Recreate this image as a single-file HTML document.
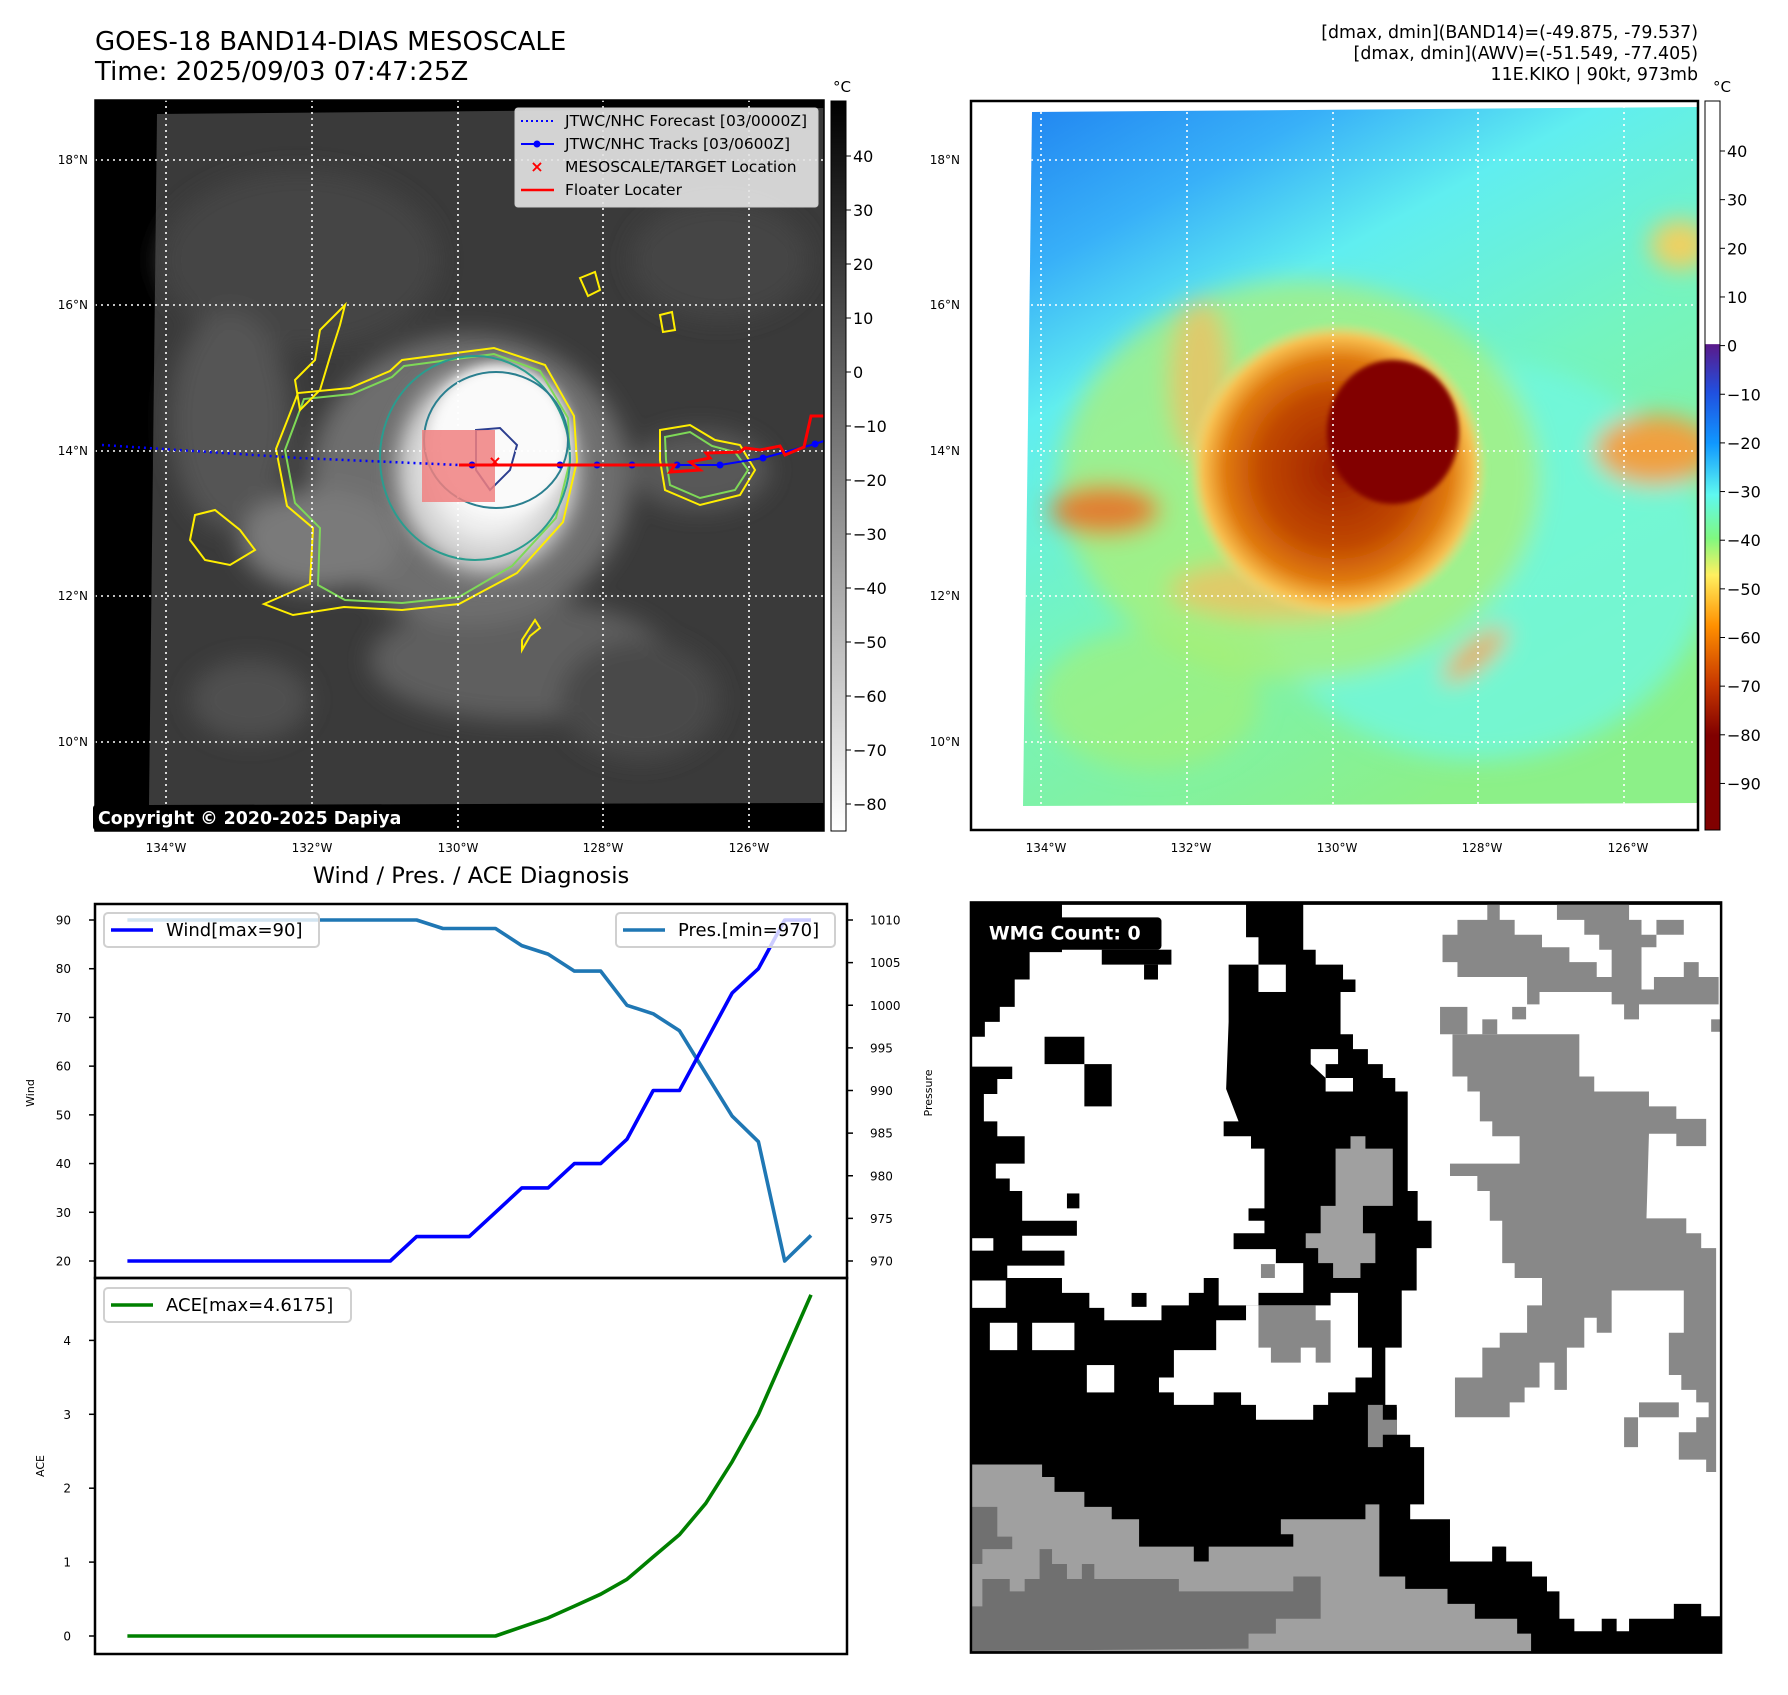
<!DOCTYPE html>
<html><head><meta charset="utf-8">
<style>
html,body{margin:0;padding:0;background:#fff;}
svg text{font-family:"DejaVu Sans","Liberation Sans",sans-serif;}
</style></head>
<body>
<svg id="root" width="1788" height="1690" viewBox="0 0 1788 1690" xmlns="http://www.w3.org/2000/svg">
<defs>
  <filter id="blur6" x="-20%" y="-20%" width="140%" height="140%"><feGaussianBlur stdDeviation="6"/></filter>
  <filter id="blur12" x="-30%" y="-30%" width="160%" height="160%"><feGaussianBlur stdDeviation="12"/></filter>
  <filter id="blur3"><feGaussianBlur stdDeviation="2.5"/></filter>
  <radialGradient id="stormGray" cx="0.5" cy="0.5" r="0.5">
    <stop offset="0" stop-color="#ffffff"/><stop offset="0.45" stop-color="#f0f0f0"/>
    <stop offset="0.75" stop-color="#c8c8c8"/><stop offset="1" stop-color="#707070" stop-opacity="0"/>
  </radialGradient>
  <linearGradient id="awvBase" x1="0" y1="0" x2="0.55" y2="1">
    <stop offset="0" stop-color="#1e80f0"/><stop offset="0.2" stop-color="#38b0f8"/>
    <stop offset="0.36" stop-color="#60eef0"/><stop offset="0.6" stop-color="#74f4c0"/>
    <stop offset="1" stop-color="#8cf088"/>
  </linearGradient>
  <radialGradient id="stormHot" cx="0.5" cy="0.5" r="0.5">
    <stop offset="0" stop-color="#a02000"/><stop offset="0.5" stop-color="#c04800"/>
    <stop offset="0.75" stop-color="#e07a10"/><stop offset="0.9" stop-color="#f8c050"/>
    <stop offset="1" stop-color="#f8e080" stop-opacity="0"/>
  </radialGradient>
  <linearGradient id="grayBar" x1="0" y1="0" x2="0" y2="1">
    <stop offset="0" stop-color="#000"/><stop offset="1" stop-color="#fff"/>
  </linearGradient>
  <linearGradient id="jetBar" x1="0" y1="0" x2="0" y2="1">
    <stop offset="0" stop-color="#ffffff"/><stop offset="0.333" stop-color="#ffffff"/>
    <stop offset="0.334" stop-color="#5a1a8a"/><stop offset="0.40" stop-color="#2050e0"/>
    <stop offset="0.47" stop-color="#1098ff"/><stop offset="0.54" stop-color="#5ef8f0"/>
    <stop offset="0.60" stop-color="#80f880"/><stop offset="0.65" stop-color="#fff060"/>
    <stop offset="0.72" stop-color="#ff9000"/><stop offset="0.80" stop-color="#c83800"/>
    <stop offset="0.87" stop-color="#800000"/><stop offset="1" stop-color="#800000"/>
  </linearGradient>
  <clipPath id="leftClip"><rect x="95" y="100" width="729" height="731"/></clipPath>
  <clipPath id="rightClip"><polygon points="1032,112 1698,107 1698,803 1023,806"/></clipPath>
</defs>

<!-- ===== Top-left IR map ===== -->
<text x="95" y="50" font-size="26">GOES-18 BAND14-DIAS MESOSCALE</text>
<text x="95" y="80" font-size="26">Time: 2025/09/03 07:47:25Z</text>
<g clip-path="url(#leftClip)">
  <rect x="95" y="100" width="729" height="731" fill="#000"/>
  <polygon points="157,114 824,108 824,803 149,805" fill="#3a3a3a"/>
  <g filter="url(#blur12)" clip-path="url(#leftClip)">
    <ellipse cx="300" cy="260" rx="140" ry="90" fill="#444"/>
    <ellipse cx="230" cy="420" rx="60" ry="110" fill="#555"/>
    <ellipse cx="520" cy="660" rx="150" ry="60" fill="#5e5e5e"/>
    <ellipse cx="640" cy="700" rx="80" ry="60" fill="#484848"/>
    <ellipse cx="720" cy="260" rx="90" ry="60" fill="#444"/>
    <ellipse cx="700" cy="470" rx="70" ry="40" fill="#585858"/>
    <ellipse cx="250" cy="700" rx="60" ry="40" fill="#505050"/>
    <ellipse cx="470" cy="480" rx="160" ry="145" fill="#6e6e6e"/>
    <ellipse cx="320" cy="540" rx="80" ry="50" fill="#7a7a7a"/>
  </g>
  <ellipse cx="488" cy="470" rx="110" ry="125" fill="url(#stormGray)" filter="url(#blur6)"/>
  <ellipse cx="500" cy="440" rx="70" ry="75" fill="#fafafa" filter="url(#blur6)"/>
  <g fill="none" stroke-width="2">
    <polygon stroke="#ffee00" points="402,360 440,355 494,348 545,365 574,416 577,461 563,522 517,573 459,604 402,610 344,607 293,615 264,604 310,584 313,528 287,506 276,449 298,393 350,388 390,371"/>
    <polygon stroke="#7ed957" points="404,366 494,354 540,371 568,418 570,461 556,518 512,566 459,597 402,603 345,600 318,585 320,528 295,503 285,450 304,399 352,394 392,377"/>
    <ellipse cx="475" cy="458" rx="95" ry="102" stroke="#2a9d8f"/>
    <ellipse cx="496" cy="440" rx="72" ry="68" stroke="#2a7f8f"/>
    <path d="M476,430 L500,428 L517,445 L510,470 L490,490 L476,470 Z" stroke="#2c3e8f"/>
    <polygon stroke="#ffee00" points="345,305 320,330 315,360 295,380 300,410 320,390 332,350 340,325"/>
    <polygon stroke="#ffee00" points="195,515 215,510 240,530 255,550 230,565 205,560 190,540"/>
    <polygon stroke="#ffee00" points="660,430 690,425 715,440 740,445 755,470 740,495 700,505 665,490 660,460"/>
    <polygon stroke="#7ed957" points="665,437 690,432 712,446 735,452 748,470 735,490 700,498 670,485 666,460"/>
    <polygon stroke="#ffee00" points="530,636 540,628 535,620 522,640 522,650"/>
    <polygon stroke="#ffee00" points="580,278 595,272 600,290 588,296"/>
    <polygon stroke="#ffee00" points="660,315 672,312 675,330 663,332"/>
  </g>
  <g stroke="#fff" stroke-width="1.6" stroke-dasharray="2,4">
    <line x1="95" x2="824" y1="160" y2="160"/><line x1="95" x2="824" y1="305" y2="305"/>
    <line x1="95" x2="824" y1="451" y2="451"/><line x1="95" x2="824" y1="596" y2="596"/>
    <line x1="95" x2="824" y1="742" y2="742"/>
    <line y1="100" y2="831" x1="166" x2="166"/><line y1="100" y2="831" x1="312" x2="312"/>
    <line y1="100" y2="831" x1="458" x2="458"/><line y1="100" y2="831" x1="603" x2="603"/>
    <line y1="100" y2="831" x1="749" x2="749"/>
  </g>
  <rect x="422" y="430" width="73" height="72" fill="#f08080" opacity="0.85"/>
  <polyline points="102,445 300,458 459,465" fill="none" stroke="#0000ff" stroke-width="2.5" stroke-dasharray="2,4"/>
  <polyline points="472,465 560,465 597,465 632,465 677,465 720,465 763,458 815,444 824,441" fill="none" stroke="#0000ff" stroke-width="2"/>
  <g fill="#0000ff"><circle cx="472" cy="465" r="3.5"/><circle cx="560" cy="465" r="3.5"/><circle cx="597" cy="465" r="3.5"/><circle cx="632" cy="465" r="3.5"/><circle cx="677" cy="465" r="3.5"/><circle cx="720" cy="465" r="3.5"/><circle cx="763" cy="458" r="3.5"/><circle cx="815" cy="444" r="3.5"/></g>
  <polyline points="459,465 675,465 670,472 700,470 690,462 710,458 706,453 740,452 745,448 760,450 780,446 785,455 804,447 811,416 824,416" fill="none" stroke="#ff0000" stroke-width="3"/>
  <text x="495" y="467" font-size="16" fill="#ff0000" font-weight="bold" text-anchor="middle">×</text>
</g>
<rect x="93" y="805" width="310" height="25" rx="3" fill="#000"/>
<text x="98" y="824" font-size="17.4" font-weight="bold" fill="#fff">Copyright © 2020-2025 Dapiya</text>
<rect x="95" y="100" width="729" height="731" fill="none" stroke="#000" stroke-width="1.5"/>
<g>
  <rect x="515" y="108" width="303" height="99" rx="3" fill="#e4e4e4" fill-opacity="0.9" stroke="#ccc"/>
  <line x1="521" x2="554" y1="121" y2="121" stroke="#0000ff" stroke-width="2" stroke-dasharray="2,3"/>
  <text x="565" y="126" font-size="15.5">JTWC/NHC Forecast [03/0000Z]</text>
  <line x1="521" x2="554" y1="144" y2="144" stroke="#0000ff" stroke-width="2"/><circle cx="537" cy="144" r="3.5" fill="#0000ff"/>
  <text x="565" y="149" font-size="15.5">JTWC/NHC Tracks [03/0600Z]</text>
  <text x="537" y="172" font-size="16" font-weight="bold" fill="#ff0000" text-anchor="middle">×</text>
  <text x="565" y="172" font-size="15.5">MESOSCALE/TARGET Location</text>
  <line x1="521" x2="554" y1="190" y2="190" stroke="#ff0000" stroke-width="2.5"/>
  <text x="565" y="195" font-size="15.5">Floater Locater</text>
</g>
<g font-size="12" text-anchor="end">
  <text x="88" y="164">18°N</text><text x="88" y="309">16°N</text><text x="88" y="455">14°N</text><text x="88" y="600">12°N</text><text x="88" y="746">10°N</text>
</g>
<g font-size="12" text-anchor="middle">
  <text x="166" y="852">134°W</text><text x="312" y="852">132°W</text><text x="458" y="852">130°W</text><text x="603" y="852">128°W</text><text x="749" y="852">126°W</text>
</g>
<rect x="831" y="101" width="15" height="730" fill="url(#grayBar)" stroke="#000" stroke-width="1"/>
<text x="842" y="92" font-size="15" text-anchor="middle">°C</text>
<g id="leftCbTicks" font-size="16"></g>

<!-- ===== Top-right AWV map ===== -->
<g font-size="17.4" text-anchor="end">
  <text x="1698" y="38">[dmax, dmin](BAND14)=(-49.875, -79.537)</text>
  <text x="1698" y="59">[dmax, dmin](AWV)=(-51.549, -77.405)</text>
  <text x="1698" y="80">11E.KIKO | 90kt, 973mb</text>
</g>
<rect x="971" y="101" width="727" height="729" fill="#fff"/>
<g clip-path="url(#rightClip)">
  <rect x="1000" y="100" width="720" height="720" fill="url(#awvBase)"/>
  <g filter="url(#blur12)">
    <ellipse cx="1480" cy="560" rx="230" ry="200" fill="#70f8e0" opacity="0.8"/>
    <ellipse cx="1300" cy="480" rx="240" ry="200" fill="#b0f070" opacity="0.7"/>
    <ellipse cx="1150" cy="700" rx="110" ry="70" fill="#a8f070" opacity="0.6"/>
    <ellipse cx="1655" cy="450" rx="60" ry="35" fill="#f0a040"/>
    <ellipse cx="1680" cy="245" rx="30" ry="25" fill="#f0d060"/>
    <ellipse cx="1105" cy="510" rx="55" ry="25" fill="#e08030"/>
    <ellipse cx="1200" cy="380" rx="30" ry="80" fill="#f0c060" opacity="0.8"/>
    <ellipse cx="1475" cy="655" rx="40" ry="12" fill="#f0a040" transform="rotate(-40 1475 655)"/>
    <ellipse cx="1280" cy="590" rx="110" ry="30" fill="#f0c060" opacity="0.8"/>
  </g>
  <ellipse cx="1338" cy="470" rx="150" ry="148" fill="url(#stormHot)" filter="url(#blur3)"/>
  <ellipse cx="1393" cy="432" rx="66" ry="72" fill="#820000" filter="url(#blur3)"/>
  <g stroke="#fff" stroke-width="1.6" stroke-dasharray="2,4">
    <line x1="971" x2="1698" y1="160" y2="160"/><line x1="971" x2="1698" y1="305" y2="305"/>
    <line x1="971" x2="1698" y1="451" y2="451"/><line x1="971" x2="1698" y1="596" y2="596"/>
    <line x1="971" x2="1698" y1="742" y2="742"/>
    <line y1="100" y2="831" x1="1041" x2="1041"/><line y1="100" y2="831" x1="1187" x2="1187"/>
    <line y1="100" y2="831" x1="1333" x2="1333"/><line y1="100" y2="831" x1="1478" x2="1478"/>
    <line y1="100" y2="831" x1="1624" x2="1624"/>
  </g>
</g>
<rect x="971" y="101" width="727" height="729" fill="none" stroke="#000" stroke-width="2.5"/>
<g font-size="12" text-anchor="end">
  <text x="960" y="164">18°N</text><text x="960" y="309">16°N</text><text x="960" y="455">14°N</text><text x="960" y="600">12°N</text><text x="960" y="746">10°N</text>
</g>
<g font-size="12" text-anchor="middle">
  <text x="1046" y="852">134°W</text><text x="1191" y="852">132°W</text><text x="1337" y="852">130°W</text><text x="1482" y="852">128°W</text><text x="1628" y="852">126°W</text>
</g>
<rect x="1705" y="101" width="15" height="729" fill="url(#jetBar)" stroke="#000" stroke-width="1"/>
<text x="1722" y="92" font-size="15" text-anchor="middle">°C</text>
<g id="rightCbTicks" font-size="16"></g>

<!-- ===== Bottom-left diagnosis charts ===== -->
<text x="471" y="883" font-size="22.5" text-anchor="middle">Wind / Pres. / ACE Diagnosis</text>
<g id="chartG"></g>

<!-- ===== Bottom-right WMG ===== -->
<svg x="960" y="890" width="780" height="780" viewBox="0 0 1568 1568">
  <rect x="22" y="25" width="1508" height="1508" fill="#000"/>
  <g fill="#fff">
    <polygon points="205,30 575,30 575,95 600,95 600,150 540,150 540,265 535,400 560,465 530,465 530,495 585,495 585,520 612,520 612,640 580,640 580,665 612,665 612,690 550,690 550,722 635,722 635,750 690,750 690,810 600,810 600,835 520,835 520,780 490,780 490,810 460,810 460,835 405,835 405,865 290,865 290,840 260,840 260,810 205,810 205,780 95,780 95,755 210,755 210,725 125,725 125,695 235,695 235,665 125,665 125,605 100,605 100,580 72,580 72,550 130,550 130,495 75,495 75,465 48,465 48,410 75,410 75,380 105,380 105,355 22,355 22,295 50,295 50,265 80,265 80,235 110,235 110,180 140,180 140,125 205,125"/>
    <polygon points="690,30 1530,30 1530,1460 1490,1460 1490,1435 1435,1435 1435,1465 1345,1465 1345,1490 1320,1490 1320,1465 1290,1465 1290,1490 1235,1490 1235,1465 1205,1465 1205,1410 1180,1410 1180,1380 1150,1380 1150,1350 1095,1350 1095,1320 1070,1320 1070,1350 985,1350 985,1265 905,1265 905,1235 933,1235 933,1120 905,1120 905,1095 878,1095 878,1040 855,1040 855,920 888,920 888,805 918,805 918,720 948,720 948,665 920,665 920,605 900,605 900,405 875,405 875,378 850,378 850,350 820,350 820,320 790,320 790,290 765,290 765,205 795,205 795,180 770,180 770,150 715,150 715,120 690,120"/>
    <polygon points="600,835 745,835 745,810 800,810 800,920 828,920 828,980 795,980 795,1010 740,1010 740,1035 710,1035 710,1065 595,1065 595,1035 565,1035 565,1010 510,1010 510,1035 430,1035 430,1010 400,1010 400,980 430,980 430,925 515,925 515,865 575,865 575,835"/>
    <polygon points="705,320 760,320 760,350 735,350 735,378 790,378 790,405 735,405 735,378 705,350"/>
    <rect x="60" y="870" width="55" height="55"/><rect x="145" y="870" width="85" height="55"/>
    <rect x="22" y="785" width="70" height="55"/><rect x="22" y="700" width="45" height="25"/>
    <rect x="255" y="955" width="55" height="55"/><rect x="600" y="150" width="55" height="55"/>
    <rect x="260" y="725" width="30" height="55"/>
  </g>
  <g fill="#000">
    <rect x="170" y="295" width="80" height="55"/><rect x="250" y="350" width="55" height="85"/>
    <rect x="215" y="610" width="25" height="30"/><rect x="285" y="120" width="140" height="30"/>
    <rect x="370" y="150" width="28" height="30"/><rect x="345" y="810" width="30" height="28"/>
    <rect x="850" y="1035" width="28" height="30"/><rect x="1070" y="1320" width="28" height="30"/>
  </g>
  <g fill="#888">
    <polygon points="990,290 1245,290 1245,375 1275,375 1275,405 1385,405 1385,435 1440,435 1440,460 1500,460 1500,515 1440,515 1440,490 1385,490 1380,660 1460,660 1460,690 1490,690 1490,720 1520,720 1520,1170 1500,1170 1500,1145 1445,1145 1445,1090 1480,1090 1480,1060 1505,1060 1505,1030 1480,1030 1480,1005 1450,1005 1450,975 1425,975 1425,890 1455,890 1455,805 1310,805 1310,890 1280,890 1280,860 1255,860 1255,920 1220,920 1220,1005 1195,1005 1195,950 1165,950 1165,1000 1135,1000 1135,1030 1105,1030 1105,1060 995,1060 995,980 1050,980 1050,920 1085,920 1085,890 1140,890 1140,835 1170,835 1170,780 1115,780 1115,750 1090,750 1090,665 1065,665 1065,605 1040,605 1040,575 985,575 985,550 1125,550 1125,495 1070,495 1070,465 1045,465 1045,405 1020,405 1020,375 990,375"/>
    <polygon points="970,90 1000,90 1000,60 1060,60 1060,30 1085,30 1085,60 1115,60 1115,90 1170,90 1170,115 1225,115 1225,145 1280,145 1280,175 1310,175 1310,120 1285,120 1285,90 1255,90 1255,60 1200,60 1200,30 1345,30 1345,60 1370,60 1370,90 1400,90 1400,60 1455,60 1455,90 1400,90 1400,115 1370,115 1370,200 1395,200 1395,175 1455,175 1455,145 1485,145 1485,175 1525,175 1525,230 1365,230 1365,260 1335,260 1335,230 1310,230 1310,205 1165,205 1165,230 1140,230 1140,175 1000,175 1000,145 970,145"/>
    <rect x="965" y="235" width="55" height="55"/><rect x="1050" y="260" width="30" height="30"/>
    <rect x="1110" y="235" width="28" height="25"/><rect x="1510" y="260" width="20" height="25"/>
    <polygon points="600,835 715,835 715,865 745,865 745,950 715,950 715,920 685,920 685,950 625,950 625,920 600,920"/>
    <polygon points="820,1035 850,1035 850,1065 878,1065 878,1095 850,1095 850,1120 820,1120"/>
    <rect x="605" y="752" width="28" height="28"/><rect x="1335" y="1060" width="28" height="60"/>
    <rect x="1365" y="1030" width="80" height="30"/>
  </g>
  <g fill="#a0a0a0">
    <polygon points="785,495 815,495 815,520 870,520 870,635 810,635 810,690 835,690 835,750 805,750 805,780 750,780 750,750 720,750 720,720 695,720 695,690 725,690 725,635 755,635 755,520 785,520"/>
    <polygon points="22,1155 165,1155 165,1180 190,1180 190,1210 250,1210 250,1240 305,1240 305,1265 360,1265 360,1320 470,1320 470,1350 500,1350 500,1320 670,1320 670,1295 645,1295 645,1265 815,1265 815,1235 843,1235 843,1380 895,1380 895,1405 980,1405 980,1435 1035,1435 1035,1465 1120,1465 1120,1495 1148,1495 1148,1530 22,1530"/>
  </g>
  <g fill="#707070">
    <polygon points="22,1240 75,1240 75,1300 105,1300 105,1325 45,1325 45,1355 22,1355"/>
    <polygon points="45,1385 100,1385 100,1410 130,1410 130,1385 160,1385 160,1325 185,1325 185,1355 215,1355 215,1385 245,1385 245,1355 270,1355 270,1385 440,1385 440,1410 670,1410 670,1380 725,1380 725,1465 635,1465 635,1495 580,1495 580,1525 22,1530 22,1440 45,1440"/>
  </g>
  <rect x="22" y="25" width="1508" height="1508" fill="none" stroke="#000" stroke-width="5"/>
  <rect x="40" y="55" width="365" height="65" rx="8" fill="#000"/>
  <text x="58" y="100" font-size="38" font-weight="bold" fill="#fff">WMG Count: 0</text>
</svg>
</svg>

<script>
// ---- data ----
const timeIdx = [0,1,2,3,4,5,6,7,8,9,10,11,12,13,14,15,16,17,18,19,20,21,22,23,24,25,26];
const windKt = [20,20,20,20,20,20,20,20,20,20,20,25,25,25,30,35,35,40,40,45,55,55,65,75,80,90,90];
const presMb = [1010,1010,1010,1010,1010,1010,1010,1010,1010,1010,1010,1010,1009,1009,1009,1007,1006,1004,1004,1000,999,997,992,987,984,970,973];
const aceVal = [0,0,0,0,0,0,0,0,0,0,0,0,0,0,0,0.1225,0.245,0.405,0.565,0.7675,1.07,1.3725,1.795,2.3575,2.9975,3.8075,4.6175];
const windTicks = [20,30,40,50,60,70,80,90];
const presTicks = [970,975,980,985,990,995,1000,1005,1010];
const aceTicks = [0,1,2,3,4];
const leftCbTickVals = [40,30,20,10,0,-10,-20,-30,-40,-50,-60,-70,-80];
const rightCbTickVals = [40,30,20,10,0,-10,-20,-30,-40,-50,-60,-70,-80,-90];

const NS = 'http://www.w3.org/2000/svg';
function mk(tag, attrs, parent){const e=document.createElementNS(NS,tag);for(const k in attrs)e.setAttribute(k,attrs[k]);parent.appendChild(e);return e;}

const xS = i => 127.4 + i*(811-127.4)/26;
const yW = v => 1261 - (v-20)*(341/70);
const yP = p => 1261 - (p-970)*(341/40);
const yA = a => 1636 - a*73.9;
const yLcb = v => 156 + (40-v)*5.4;
const yRcb = v => 151 + (40-v)*4.865;

const g = document.getElementById('chartG');
let r1 = mk('rect',{x:95,y:904,width:752,height:374,fill:'none',stroke:'#000','stroke-width':2.5},g);


let r2 = mk('rect',{x:95,y:1278,width:752,height:376,fill:'none',stroke:'#000','stroke-width':2.5},g);



windTicks.forEach(v=>{
  const y=yW(v);
  mk('line',{x1:89,x2:95,y1:y,y2:y,stroke:'#000','stroke-width':1.5},g);
  const t=mk('text',{x:71,y:y+4.5,'font-size':12,'text-anchor':'end'},g);t.textContent=v;
  
  
});
presTicks.forEach(v=>{
  const y=yP(v);
  mk('line',{x1:847,x2:853,y1:y,y2:y,stroke:'#000','stroke-width':1.5},g);
  const t=mk('text',{x:870,y:y+4.5,'font-size':12},g);t.textContent=v;
  
  
});
aceTicks.forEach(v=>{
  const y=yA(v);
  mk('line',{x1:89,x2:95,y1:y,y2:y,stroke:'#000','stroke-width':1.5},g);
  const t=mk('text',{x:71,y:y+4.5,'font-size':12,'text-anchor':'end'},g);t.textContent=v;
  
  
});
let yl1=mk('text',{x:0,y:0,'font-size':11,'text-anchor':'middle',transform:'translate(34,1093) rotate(-90)'},g);yl1.textContent='Wind';


let yl2=mk('text',{x:0,y:0,'font-size':11,'text-anchor':'middle',transform:'translate(932,1093) rotate(-90)'},g);yl2.textContent='Pressure';


let yl3=mk('text',{x:0,y:0,'font-size':11,'text-anchor':'middle',transform:'translate(44,1466) rotate(-90)'},g);yl3.textContent='ACE';



function line(arr, ys, color, name){
  const pts = arr.map((v,i)=>xS(timeIdx[i]).toFixed(1)+','+ys(v).toFixed(1)).join(' ');
  const p = mk('polyline',{points:pts,fill:'none',stroke:color,'stroke-width':3.6,'stroke-linejoin':'round'},g);
  
  
}
line(presMb, yP, '#1f77b4', 'pressure-line');
line(windKt, yW, '#0000ff', 'wind-line');
line(aceVal, yA, '#008000', 'ace-line');

function legend(x,y,w,color,label,name){
  const lg = mk('g',{},g);
  
  
  mk('rect',{x:x,y:y,width:w,height:34,rx:4,fill:'#fff','fill-opacity':0.8,stroke:'#d0d0d0','stroke-width':2},lg);
  mk('line',{x1:x+7,x2:x+49,y1:y+17,y2:y+17,stroke:color,'stroke-width':3.6},lg);
  const t=mk('text',{x:x+62,y:y+23,'font-size':18},lg);t.textContent=label;
}
legend(104,913,215,'#0000ff','Wind[max=90]','wind-legend');
legend(616,913,219,'#1f77b4','Pres.[min=970]','pressure-legend');
legend(104,1288,247,'#008000','ACE[max=4.6175]','ace-legend');

const lc = document.getElementById('leftCbTicks');
leftCbTickVals.forEach(v=>{
  const y=yLcb(v);
  mk('line',{x1:846,x2:851,y1:y,y2:y,stroke:'#000','stroke-width':1},lc);
  const t=mk('text',{x:853,y:y+6},lc);t.textContent=(v<0?'\u2212'+(-v):v);
  
  
});
const rc = document.getElementById('rightCbTicks');
rightCbTickVals.forEach(v=>{
  const y=yRcb(v);
  mk('line',{x1:1720,x2:1725,y1:y,y2:y,stroke:'#000','stroke-width':1},rc);
  const t=mk('text',{x:1727,y:y+6},rc);t.textContent=(v<0?'\u2212'+(-v):v);
  
  
});
</script>
</body></html>
